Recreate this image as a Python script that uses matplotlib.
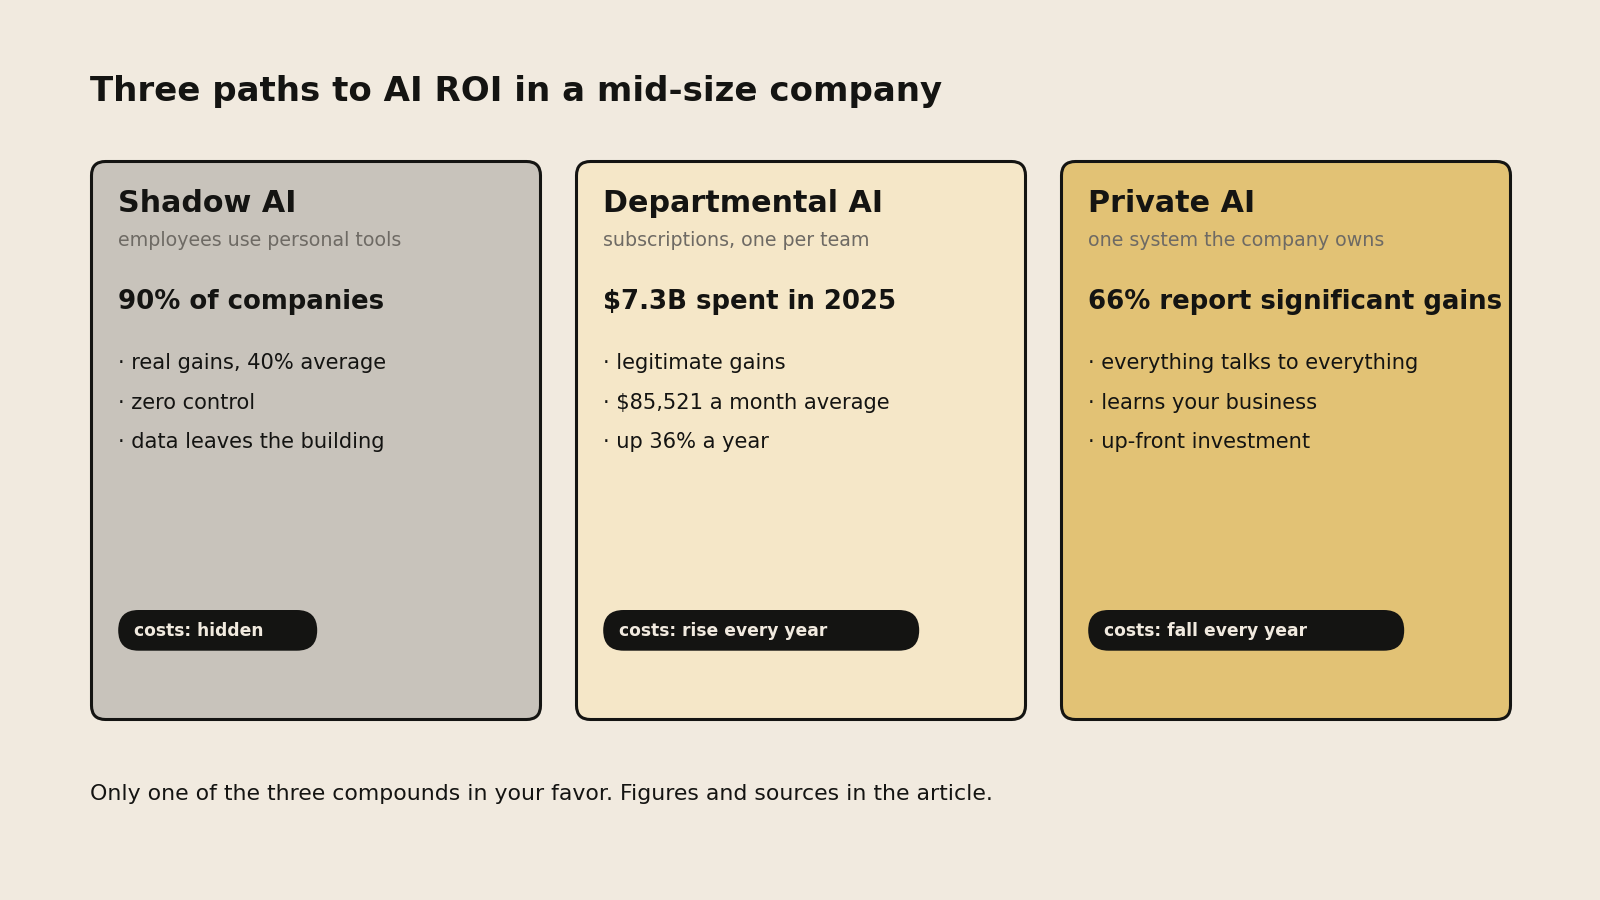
import os
import matplotlib
matplotlib.use("Agg")
import matplotlib.pyplot as plt
from matplotlib.patches import FancyBboxPatch
from matplotlib.font_manager import FontProperties

_fdir = os.path.join(matplotlib.get_data_path(), "fonts", "ttf")
REG = os.path.join(_fdir, "DejaVuSans.ttf")
BOLD = os.path.join(_fdir, "DejaVuSans-Bold.ttf")


def fp(size, bold=False):
    return FontProperties(fname=BOLD if bold else REG, size=size)


# ---- data ----
title = "Three paths to AI ROI in a mid-size company"
footer = "Only one of the three compounds in your favor. Figures and sources in the article."
card_names = ["Shadow AI", "Departmental AI", "Private AI"]
card_subtitles = ["employees use personal tools", "subscriptions, one per team", "one system the company owns"]
card_headlines = ["90% of companies", "$7.3B spent in 2025", "66% report significant gains"]
card_bullets = [
    ["real gains, 40% average", "zero control", "data leaves the building"],
    ["legitimate gains", "$85,521 a month average", "up 36% a year"],
    ["everything talks to everything", "learns your business", "up-front investment"],
]
card_costs = ["costs: hidden", "costs: rise every year", "costs: fall every year"]

# ---- style ----
BG = "#F1EADF"
INK = "#141412"
MUTED = "#6E6A64"
card_colors = ["#C8C3BB", "#F5E7C8", "#E2C275"]
pill_widths = [199, 316, 316]

fig = plt.figure(figsize=(16, 9), dpi=100, facecolor=BG)
ax = fig.add_axes([0, 0, 1, 1])
ax.set_xlim(0, 1600)
ax.set_ylim(900, 0)
ax.axis("off")
ax.set_facecolor(BG)

ax.text(89.5, 101, title, fontproperties=fp(24.5, True), color=INK, va="baseline", ha="left")

card_x0 = 91.5
card_step = 485
card_w = 449
card_top = 161.5
card_h = 558
radius = 14

for i, name in enumerate(card_names):
    x = card_x0 + i * card_step
    box = FancyBboxPatch((x + radius, card_top + radius), card_w - 2 * radius, card_h - 2 * radius,
                         boxstyle=f"round,pad={radius}", facecolor=card_colors[i],
                         edgecolor=INK, linewidth=2.2, zorder=1)
    ax.add_patch(box)
    tx = x + 26.7
    ax.text(tx, 211.7, name, fontproperties=fp(21.7, True), color=INK, va="baseline", ha="left", zorder=3)
    ax.text(tx, 245.7, card_subtitles[i], fontproperties=fp(13.7), color=MUTED, va="baseline", ha="left", zorder=3)
    ax.text(tx, 309, card_headlines[i], fontproperties=fp(18.7, True), color=INK, va="baseline", ha="left", zorder=3)
    for j, b in enumerate(card_bullets[i]):
        ax.text(tx, 369 + j * 39.7, "\u00b7 " + b, fontproperties=fp(15.1), color=INK,
                va="baseline", ha="left", zorder=3)
    # pill
    ph = 40.7
    pr = ph / 2
    pw = pill_widths[i]
    py = 610
    pill = FancyBboxPatch((tx + pr, py + pr), pw - 2 * pr, 0.001,
                          boxstyle=f"round,pad={pr - 0.0005}", facecolor=INK, edgecolor="none", zorder=2)
    ax.add_patch(pill)
    ax.text(tx + 15.5, py + ph / 2 - 1.3, card_costs[i], fontproperties=fp(12.3, True), color=BG,
            va="center_baseline", ha="left", zorder=3)

ax.text(89.5, 799.5, footer, fontproperties=fp(15.8), color=INK, va="baseline", ha="left")

fig.savefig("out.png", dpi=100, facecolor=BG)
